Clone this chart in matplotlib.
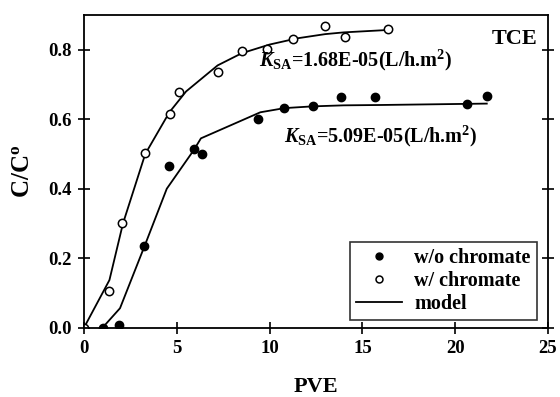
import matplotlib
matplotlib.use("Agg")
import matplotlib.pyplot as plt
from matplotlib.lines import Line2D

plt.rcParams['font.family'] = ['Liberation Serif', 'DejaVu Serif']
plt.rcParams['font.weight'] = 'bold'
plt.rcParams['mathtext.fontset'] = 'custom'
plt.rcParams['mathtext.rm'] = 'Liberation Serif:bold'
plt.rcParams['mathtext.it'] = 'Liberation Serif:bold:italic'
plt.rcParams['mathtext.bf'] = 'Liberation Serif:bold'

# Data: w/ chromate (open circles)
pve_with = [0.0, 1.35, 2.03, 3.29, 4.64, 5.14, 7.24, 8.53, 9.85, 11.28, 12.99, 14.07, 16.37]
c_with = [0.0, 0.106, 0.302, 0.504, 0.614, 0.679, 0.737, 0.797, 0.801, 0.830, 0.868, 0.837, 0.859]

# Data: w/o chromate (filled circles)
pve_without = [1.04, 1.90, 3.25, 4.60, 5.95, 6.34, 9.36, 10.78, 12.33, 13.85, 15.69, 20.63, 21.70]
c_without = [0.0, 0.008, 0.236, 0.465, 0.514, 0.500, 0.600, 0.633, 0.638, 0.665, 0.665, 0.643, 0.668]

# Model curves
model_with_x = [0.0, 1.37, 2.1, 3.3, 4.6, 5.5, 7.2, 8.5, 10.0, 11.5, 13.0, 14.0, 16.4]
model_with_y = [0.0, 0.137, 0.30, 0.50, 0.62, 0.68, 0.755, 0.79, 0.815, 0.833, 0.845, 0.850, 0.857]
model_without_x = [1.0, 1.94, 3.3, 4.46, 5.9, 6.3, 9.5, 10.8, 12.3, 14.0, 16.0, 21.7]
model_without_y = [0.0, 0.056, 0.24, 0.40, 0.51, 0.545, 0.620, 0.632, 0.637, 0.640, 0.641, 0.645]

fig = plt.figure(figsize=(5.6, 3.97), dpi=100)
ax = fig.add_axes([0.15, 0.1746, 0.8286, 0.7876])

ax.plot(model_with_x, model_with_y, color='black', lw=1.3)
ax.plot(model_without_x, model_without_y, color='black', lw=1.3)
ax.plot(pve_without, c_without, 'o', ms=6, mfc='black', mec='black', ls='none')
ax.plot(pve_with, c_with, 'o', ms=6, mfc='white', mec='black', mew=1.1, ls='none')

ax.set_xlim(0, 25)
ax.set_ylim(0, 0.9)
ax.set_xticks([0, 5, 10, 15, 20, 25])
ax.set_yticks([0.0, 0.2, 0.4, 0.6, 0.8])
ax.set_yticklabels(['0.0', '0.2', '0.4', '0.6', '0.8'])
ax.tick_params(direction='inout', length=8, width=1.2, labelsize=13.5, pad=5,
               right=True, top=False)
for lab in ax.get_xticklabels() + ax.get_yticklabels():
    lab.set_fontweight('bold')
for s in ax.spines.values():
    s.set_linewidth(1.3)

ax.set_xlabel('PVE', fontsize=16, fontweight='bold', labelpad=14)
ax.set_ylabel(r'C/C$^{\mathrm{o}}$', fontsize=18, fontweight='bold', labelpad=10)

ax.text(24.42, 0.83, 'TCE', fontsize=16, fontweight='bold', ha='right', va='center')
ax.text(9.43, 0.77, r'$K_{\mathrm{SA}}$=1.68E-05(L/h.m$^{2}$)', fontsize=14.5,
        fontweight='bold', ha='left', va='center')
ax.text(10.75, 0.55, r'$K_{\mathrm{SA}}$=5.09E-05(L/h.m$^{2}$)', fontsize=14.5,
        fontweight='bold', ha='left', va='center')

handles = [
    Line2D([], [], marker='o', ls='none', mfc='black', mec='black', ms=5),
    Line2D([], [], marker='o', ls='none', mfc='white', mec='black', ms=5, mew=1.1),
    Line2D([], [], color='black', lw=1.3),
]
leg = ax.legend(handles, ['w/o chromate', 'w/ chromate', 'model'], loc='lower right',
                bbox_to_anchor=(0.976, 0.025), borderaxespad=0, frameon=True,
                fancybox=False, edgecolor='black', fontsize=14.5, handlelength=2.3,
                borderpad=0.3, labelspacing=0.15, handletextpad=0.6)
leg.get_frame().set_linewidth(1.2)
for t in leg.get_texts():
    t.set_fontweight('bold')

fig.savefig('out.png', dpi=100)
